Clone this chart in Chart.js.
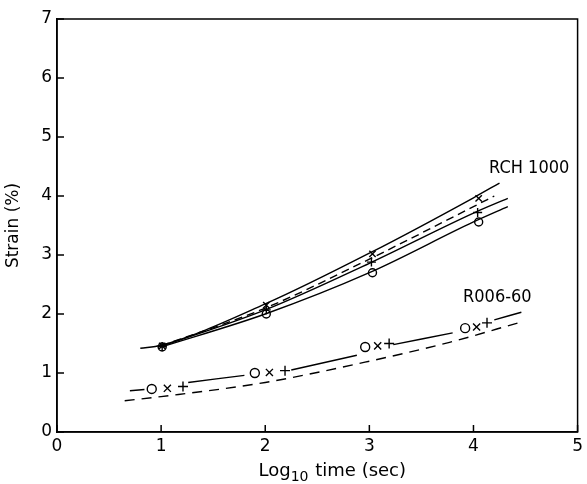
<!DOCTYPE html>
<html>
<head>
<meta charset="utf-8">
<script src="https://cdn.jsdelivr.net/npm/chart.js@4/dist/chart.umd.min.js"></script>
<style>
    html, body { margin: 0; padding: 0; background: #fff; }
</style>
</head>
<body>
<canvas id="strainChart" width="587" height="484"></canvas>
<script>
//
//
// Data (x = log10 time in sec, y = strain %)
var rchTopX  = [0.80, 1.00, 2.00, 3.00, 4.00, 4.25];
var rchTopY  = [1.42, 1.47, 2.17, 3.03, 3.97, 4.22];
var rchDashX = [1.00, 2.00, 3.00, 4.00, 4.20];
var rchDashY = [1.46, 2.10, 2.93, 3.82, 4.00];
var rchMidX  = [1.00, 2.00, 3.00, 4.00, 4.33];
var rchMidY  = [1.45, 2.07, 2.86, 3.71, 3.96];
var rchLowX  = [1.00, 2.00, 3.00, 4.00, 4.33];
var rchLowY  = [1.44, 2.00, 2.70, 3.56, 3.82];

var rchCrossX = [1.01, 2.01, 3.03, 4.05];
var rchCrossY = [1.46, 2.15, 3.02, 3.96];
var rchPlusX  = [1.01, 2.01, 3.02, 4.04];
var rchPlusY  = [1.45, 2.07, 2.88, 3.72];
var rchCircX  = [1.01, 2.01, 3.03, 4.05];
var rchCircY  = [1.44, 2.00, 2.70, 3.56];

// solid R006-60 line is broken where the symbols sit (null = gap)
var r006SolidX = [0.70, 0.84, 0.95, 1.26, 1.80, 1.95, 2.25, 2.88, 3.05, 3.23, 3.80, 4.00, 4.20, 4.46];
var r006SolidY = [0.70, 0.72, null, 0.84, 0.96, null, 1.05, 1.30, null, 1.48, 1.68, null, 1.90, 2.03];
var r006DashX  = [0.65, 1.00, 2.00, 3.00, 3.77, 4.45];
var r006DashY  = [0.53, 0.60, 0.84, 1.20, 1.52, 1.86];

var r006CircX  = [0.91, 1.90, 2.96, 3.92];
var r006CircY  = [0.73, 1.00, 1.44, 1.76];
var r006CrossX = [1.06, 2.04, 3.08, 4.03];
var r006CrossY = [0.74, 1.01, 1.46, 1.78];
var r006PlusX  = [1.21, 2.19, 3.19, 4.13];
var r006PlusY  = [0.77, 1.04, 1.50, 1.85];

var curveLabels = ['RCH 1000', 'R006-60'];
var curveLabelX = [4.15, 3.90];
var curveLabelY = [4.47, 2.29];

var xTitleParts = ['Log', '10', ' time (sec)'];
var yTitle = 'Strain (%)';

//
// helpers
function pts(xs, ys) {
    return xs.map(function(x, i) { return { x: x, y: ys[i] }; });
}

function curve(xs, ys, dash) {
    return {
        data: pts(xs, ys),
        borderColor: '#000',
        borderWidth: 1.4,
        borderDash: dash || [],
        pointRadius: 0,
        fill: false,
        tension: 0.4,
        cubicInterpolationMode: 'monotone',
        spanGaps: false
    };
}

function marks(xs, ys, style, radius) {
    return {
        data: pts(xs, ys),
        showLine: false,
        pointStyle: style,
        pointRadius: radius,
        pointBorderColor: '#000',
        pointBackgroundColor: style === 'circle' ? '#fff' : '#000',
        pointBorderWidth: 1.4
    };
}

var labelFont = '18px "Liberation Sans Narrow", "DejaVu Sans Condensed", "DejaVu Sans"';
var titleFont = '18px "DejaVu Sans"';
var subFont = '14px "DejaVu Sans"';

//
// frame, inward ticks, curve labels and x title with subscript
var frameAndLabels = {
    id: 'frameAndLabels',
    afterDraw: function(chart) {
        var ctx = chart.ctx;
        var a = chart.chartArea;
        var xs = chart.scales.x;
        var ys = chart.scales.y;
        ctx.save();
        ctx.strokeStyle = '#000';
        ctx.lineWidth = 1.5;
        ctx.strokeRect(a.left, a.top, a.right - a.left, a.bottom - a.top);
        ctx.beginPath();
        xs.ticks.forEach(function(t) {
            var px = xs.getPixelForValue(t.value);
            ctx.moveTo(px, a.bottom);
            ctx.lineTo(px, a.bottom - 7);
        });
        ys.ticks.forEach(function(t) {
            var py = ys.getPixelForValue(t.value);
            ctx.moveTo(a.left, py);
            ctx.lineTo(a.left + 7, py);
        });
        ctx.stroke();

        ctx.fillStyle = '#000';
        ctx.font = labelFont;
        ctx.textBaseline = 'middle';
        ctx.textAlign = 'left';
        curveLabels.forEach(function(txt, i) {
            ctx.fillText(txt, xs.getPixelForValue(curveLabelX[i]), ys.getPixelForValue(curveLabelY[i]));
        });

        //
        // x title: Log_10 time (sec)
        ctx.textBaseline = 'alphabetic';
        ctx.font = titleFont;
        var w0 = ctx.measureText(xTitleParts[0]).width;
        var w2 = ctx.measureText(xTitleParts[2]).width;
        ctx.font = subFont;
        var w1 = ctx.measureText(xTitleParts[1]).width + 1;
        var x0 = (a.left + a.right) / 2 + 15 - (w0 + w1 + w2) / 2;
        var base = 476;
        ctx.font = titleFont;
        ctx.fillText(xTitleParts[0], x0, base);
        ctx.font = subFont;
        ctx.fillText(xTitleParts[1], x0 + w0, base + 5);
        ctx.font = titleFont;
        ctx.fillText(xTitleParts[2], x0 + w0 + w1, base);
        ctx.restore();
    }
};

//
// Draw Chart
var ctx = document.getElementById('strainChart').getContext('2d');
new Chart(ctx, {
    type: 'line',
    data: {
        datasets: [
            curve(rchTopX, rchTopY),
            curve(rchDashX, rchDashY, [8, 5]),
            curve(rchMidX, rchMidY),
            curve(rchLowX, rchLowY),
            curve(r006SolidX, r006SolidY),
            curve(r006DashX, r006DashY, [10, 7]),
            marks(rchCrossX, rchCrossY, 'crossRot', 4.5),
            marks(rchPlusX, rchPlusY, 'cross', 4.5),
            marks(rchCircX, rchCircY, 'circle', 4),
            marks(r006CircX, r006CircY, 'circle', 4.5),
            marks(r006CrossX, r006CrossY, 'crossRot', 5),
            marks(r006PlusX, r006PlusY, 'cross', 5)
        ]
    },
    options: {
        responsive: false,
        animation: false,
        layout: {
            padding: { left: 0, top: 19, right: 9, bottom: 0 }
        },
        plugins: {
            legend: { display: false },
            tooltip: { enabled: false }
        },
        scales: {
            x: {
                type: 'linear',
                min: 0,
                max: 5,
                ticks: {
                    stepSize: 1,
                    color: '#000',
                    padding: 4,
                    font: { family: 'DejaVu Sans', size: 17 }
                },
                grid: { display: false, drawTicks: false },
                border: { display: true, color: '#000', width: 1.5 },
                afterFit: function(scale) { scale.height = 52; }
            },
            y: {
                min: 0,
                max: 7,
                ticks: {
                    stepSize: 1,
                    color: '#000',
                    padding: 5,
                    font: { family: 'DejaVu Sans', size: 17 }
                },
                grid: { display: false, drawTicks: false },
                border: { display: true, color: '#000', width: 1.5 },
                title: {
                    display: true,
                    text: yTitle,
                    color: '#000',
                    padding: { top: 3, bottom: 0 },
                    font: { family: 'DejaVu Sans', size: 17 }
                },
                afterFit: function(scale) { scale.width = 57; }
            }
        }
    },
    plugins: [frameAndLabels]
});
</script>
</body>
</html>
